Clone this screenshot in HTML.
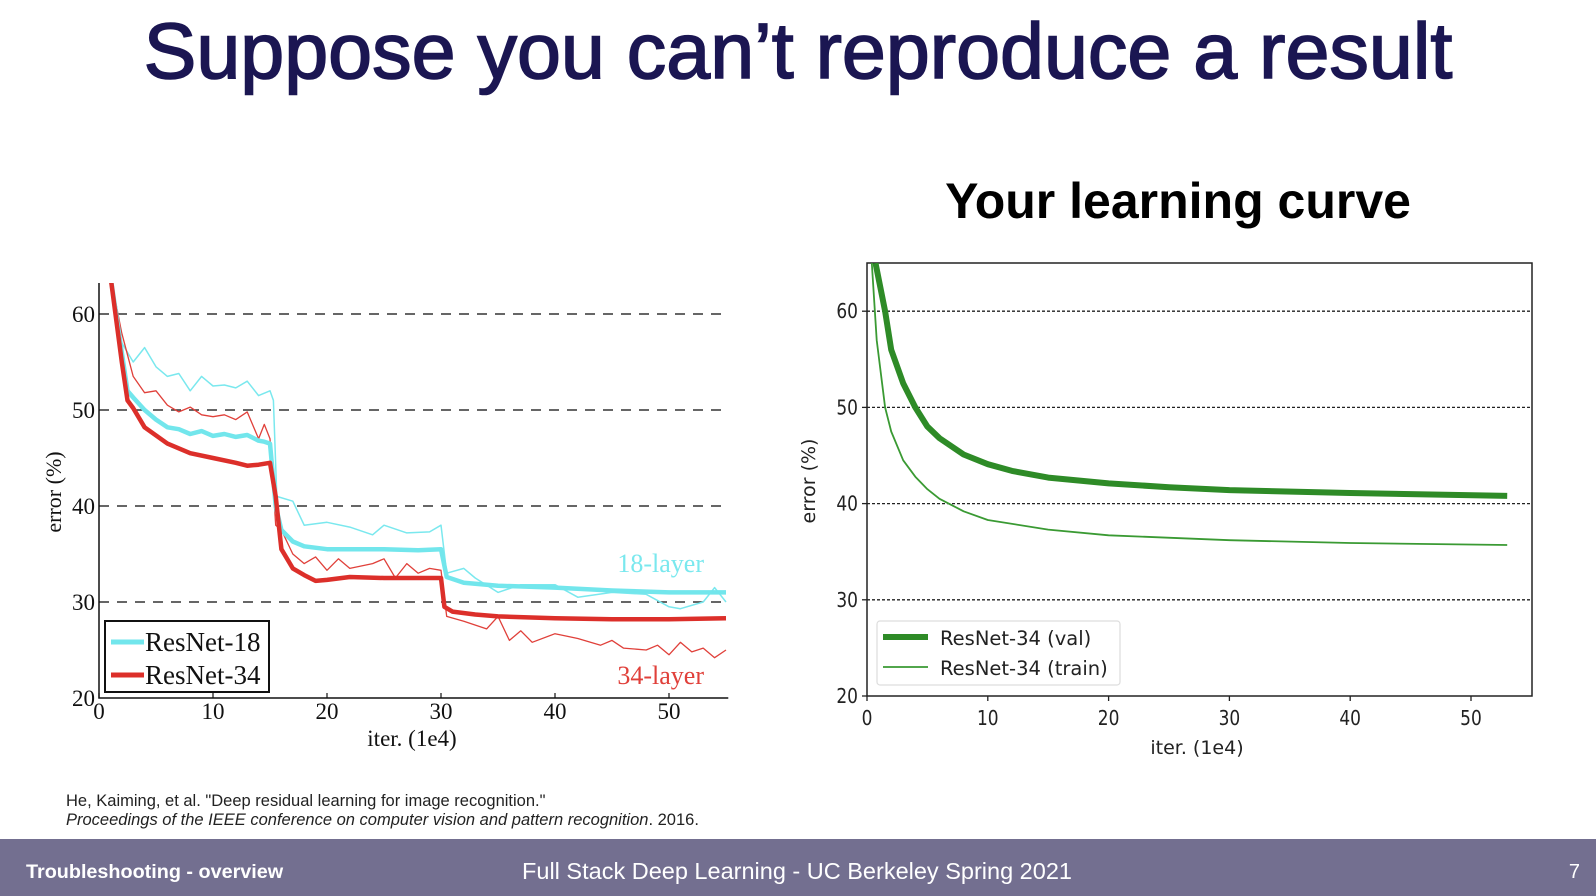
<!DOCTYPE html>
<html><head><meta charset="utf-8"><style>
html,body{margin:0;padding:0;background:#fff;}
svg{display:block;}
</style></head><body>
<svg id="slide" width="1596" height="896" viewBox="0 0 1596 896" xmlns="http://www.w3.org/2000/svg">
<defs>
<clipPath id="clipL"><rect x="99" y="283" width="632" height="415"/></clipPath>
<clipPath id="clipR"><rect x="867" y="263" width="665" height="433"/></clipPath>
</defs>
<text x="798" y="78" text-anchor="middle" font-family="Liberation Sans, sans-serif" font-size="79" fill="#1b1652" stroke="#1b1652" stroke-width="1.6">Suppose you can’t reproduce a result</text>
<text x="1178" y="218" text-anchor="middle" font-family="Liberation Sans, sans-serif" font-weight="bold" font-size="50" fill="#000">Your learning curve</text>

<g id="left"></g>
<g id="right"></g>

<text x="66" y="806" font-family="Liberation Sans, sans-serif" font-size="16.5" fill="#222">He, Kaiming, et al. "Deep residual learning for image recognition."</text>
<text x="66" y="825" font-family="Liberation Sans, sans-serif" font-size="16.5" fill="#222"><tspan font-style="italic">Proceedings of the IEEE conference on computer vision and pattern recognition</tspan>. 2016.</text>

<rect x="0" y="839" width="1596" height="57" fill="#736f90"/>
<text x="26" y="878" font-family="Liberation Sans, sans-serif" font-weight="bold" font-size="19.8" fill="#fff">Troubleshooting - overview</text>
<text x="797" y="879" text-anchor="middle" font-family="Liberation Sans, sans-serif" font-size="23.5" fill="#fff">Full Stack Deep Learning - UC Berkeley Spring 2021</text>
<text x="1580" y="878" text-anchor="end" font-family="Liberation Sans, sans-serif" font-size="20" fill="#fff">7</text>
</svg>
<script>
// ---- Left chart data (He et al.) ----
const lXTicks = [0,10,20,30,40,50];
const lYTicks = [20,30,40,50,60];
const r18ValX = [1,2,2.5,3,4,5,6,7,8,9,10,11,12,13,14,14.5,15,15.5,16,17,18,20,22,25,28,30,30.5,32,35,40,45,50,55];
const r18ValY = [64,56,52,51.3,50,49,48.2,48,47.5,47.8,47.3,47.5,47.2,47.4,46.8,46.7,46.5,40,37.5,36.3,35.8,35.5,35.5,35.5,35.4,35.5,32.6,32,31.7,31.5,31.2,31,31];
const r18TrX = [1,2,3,4,5,6,7,8,9,10,11,12,13,14,15,15.3,15.6,17,18,20,22,24,25,27,29,30,30.5,32,33,35,37,40,42,45,48,50,51,53,54,55];
const r18TrY = [64,57,55,56.5,54.5,53.5,53.8,52,53.5,52.5,52.6,52.3,53,51.5,52,51,41,40.5,38,38.3,37.8,37,38,37.2,37.3,38,33,33.5,32.5,31,31.8,31.8,30.5,31,30.8,29.5,29.3,30,31.5,30];
const r34ValX = [1,2,2.5,3,4,6,8,10,12,13,14,15,15.5,16,17,18,19,20,22,25,30,30.3,31,33,35,40,45,50,55];
const r34ValY = [64,55,51,50.2,48.2,46.5,45.5,45,44.5,44.2,44.3,44.5,41,35.5,33.5,32.8,32.2,32.3,32.6,32.5,32.5,29.5,29,28.7,28.5,28.3,28.2,28.2,28.3];
const r34TrX = [1,2,3,4,5,6,7,8,9,10,11,12,13,14,14.5,15,15.5,16,17,18,19,20,21,22,24,25,26,27,28,29,30,30.5,32,34,35,36,37,38,40,42,44,45,46,48,49,50,51,52,53,54,55];
const r34TrY = [64,58,53.5,51.8,52,50.5,49.8,50.3,49.5,49.3,49.5,49,49.8,47,48.5,47,38,37.5,35,34,34.7,33.3,34.5,33.5,34,34.5,32.5,34,33,33.5,33.3,28.5,28,27.2,28.5,26,27,25.8,26.7,26.2,25.5,26,25.2,25,25.5,24.5,25.8,24.8,25.2,24.2,25];
// ---- Right chart data ----
const rXTicks = [0,10,20,30,40,50];
const rYTicks = [20,30,40,50,60];
const valX = [0.7,1.5,2,3,4,5,6,8,10,12,15,20,25,30,40,53];
const valY = [65,60,56,52.5,50,48,46.8,45.1,44.1,43.4,42.7,42.1,41.7,41.4,41.1,40.8];
const trainX = [0.4,0.8,1,1.5,2,3,4,5,6,8,10,15,20,30,40,53];
const trainY = [65,57,55,50,47.5,44.5,42.8,41.5,40.5,39.2,38.3,37.3,36.7,36.2,35.9,35.7];

const NS = 'http://www.w3.org/2000/svg';
function mk(parent, tag, attrs, text){
  const e = document.createElementNS(NS, tag);
  for (const k in attrs) e.setAttribute(k, attrs[k]);
  if (text !== undefined) e.textContent = text;
  parent.appendChild(e);
  return e;
}
const lx = v => 99 + v*11.4;
const ly = v => 698 - (v-20)*9.6;
const rx = v => 867 + v*12.08;
const ry = v => 696 - (v-20)*9.62;

function pathD(xs, ys, fx, fy){
  return xs.map((x,i)=>(i?'L':'M')+fx(x).toFixed(1)+' '+fy(ys[i]).toFixed(1)).join(' ');
}

// ===== Left chart =====
const L = document.getElementById('left');
const serif = 'Liberation Serif, serif';
lYTicks.forEach(t=>{
  if (t>20){
    const g = mk(L,'line',{x1:lx(0),x2:lx(55.2),y1:ly(t),y2:ly(t),stroke:'#333','stroke-width':1.5,'stroke-dasharray':'10 8'});
    
    
  }
  const tl = mk(L,'text',{x:lx(0)-4,y:ly(t)+8,'text-anchor':'end','font-family':serif,'font-size':23,fill:'#111'},String(t));
  
  
});
lXTicks.forEach(t=>{
  mk(L,'line',{x1:lx(t),x2:lx(t),y1:ly(20),y2:ly(20)-5,stroke:'#111','stroke-width':1.2});
  const tl = mk(L,'text',{x:lx(t),y:ly(20)+21,'text-anchor':'middle','font-family':serif,'font-size':23,fill:'#111'},String(t));
  
  
});
const lax = mk(L,'path',{d:`M${lx(0)} 283 V${ly(20)} H${lx(55.2)}`,fill:'none',stroke:'#111','stroke-width':1.5});


const lxt = mk(L,'text',{x:412,y:746,'text-anchor':'middle','font-family':serif,'font-size':23,fill:'#111'},'iter. (1e4)');


const lyt = mk(L,'text',{transform:'translate(61,492) rotate(-90)','text-anchor':'middle','font-family':serif,'font-size':22,fill:'#111'},'error (%)');


const lc = mk(L,'g',{'clip-path':'url(#clipL)'});
[[r18TrX,r18TrY,'#7ae8ee',1.5,'resnet18-train-line'],[r34TrX,r34TrY,'#e0403a',1.3,'resnet34-train-line'],
 [r18ValX,r18ValY,'#72e6ec',4.5,'resnet18-val-line'],[r34ValX,r34ValY,'#dc2f2a',4.5,'resnet34-val-line']].forEach(s=>{
  const p = mk(lc,'path',{d:pathD(s[0],s[1],lx,ly),fill:'none',stroke:s[2],'stroke-width':s[3],'stroke-linejoin':'round'});
  
  
});
const l18 = mk(L,'text',{x:704,y:572,'text-anchor':'end','font-family':serif,'font-size':26,fill:'#7ae8ee'},'18-layer');


const l34 = mk(L,'text',{x:704,y:684,'text-anchor':'end','font-family':serif,'font-size':26,fill:'#e0403a'},'34-layer');


const lleg = mk(L,'g',{});


mk(lleg,'rect',{x:105,y:621,width:164,height:71,fill:'#fff',stroke:'#111','stroke-width':2});
mk(lleg,'line',{x1:111,x2:144,y1:642,y2:642,stroke:'#72e6ec','stroke-width':5});
mk(lleg,'line',{x1:111,x2:144,y1:675,y2:675,stroke:'#dc2f2a','stroke-width':5});
mk(lleg,'text',{x:145,y:651,'font-family':serif,'font-size':27,fill:'#111'},'ResNet-18');
mk(lleg,'text',{x:145,y:684,'font-family':serif,'font-size':27,fill:'#111'},'ResNet-34');

// ===== Right chart =====
const R = document.getElementById('right');
const sans = 'DejaVu Sans, sans-serif';
rYTicks.forEach(t=>{
  if (t>20){
    const g = mk(R,'line',{x1:rx(0),x2:1532,y1:ry(t),y2:ry(t),stroke:'#222','stroke-width':1.3,'stroke-dasharray':'3 2'});
    
    
  }
  mk(R,'line',{x1:rx(0)-5,x2:rx(0),y1:ry(t),y2:ry(t),stroke:'#222','stroke-width':1.3});
  const tl = mk(R,'text',{x:rx(0)-9,y:ry(t)+7,'text-anchor':'end','font-family':sans,'font-size':20,fill:'#222',transform:`translate(${rx(0)-9},0) scale(0.85,1) translate(${-(rx(0)-9)},0)`},String(t));
  
  
});
rXTicks.forEach(t=>{
  mk(R,'line',{x1:rx(t),x2:rx(t),y1:696,y2:701,stroke:'#222','stroke-width':1.3});
  const tl = mk(R,'text',{x:rx(t),y:725,'text-anchor':'middle','font-family':sans,'font-size':20,fill:'#222',transform:`translate(${rx(t)},0) scale(0.85,1) translate(${-rx(t)},0)`},String(t));
  
  
});
const rbox = mk(R,'rect',{x:867,y:263,width:665,height:433,fill:'none',stroke:'#222','stroke-width':1.5});


const rxt = mk(R,'text',{x:1197,y:754,'text-anchor':'middle','font-family':sans,'font-size':19,fill:'#222'},'iter. (1e4)');


const ryt = mk(R,'text',{transform:'translate(815,481) rotate(-90)','text-anchor':'middle','font-family':sans,'font-size':19,fill:'#222'},'error (%)');


const rc = mk(R,'g',{'clip-path':'url(#clipR)'});
const pv = mk(rc,'path',{d:pathD(valX,valY,rx,ry),fill:'none',stroke:'#2e8b27','stroke-width':6,'stroke-linejoin':'round'});


const pt = mk(rc,'path',{d:pathD(trainX,trainY,rx,ry),fill:'none',stroke:'#3a9a33','stroke-width':1.8,'stroke-linejoin':'round'});


const rleg = mk(R,'g',{});


mk(rleg,'rect',{x:877,y:621,width:243,height:64,rx:3,fill:'#fff',stroke:'#ddd','stroke-width':1.2});
mk(rleg,'line',{x1:883,x2:928,y1:637,y2:637,stroke:'#2e8b27','stroke-width':6});
mk(rleg,'line',{x1:883,x2:928,y1:667,y2:667,stroke:'#3a9a33','stroke-width':1.8});
mk(rleg,'text',{x:940,y:645,'font-family':sans,'font-size':19.5,fill:'#222'},'ResNet-34 (val)');
mk(rleg,'text',{x:940,y:675,'font-family':sans,'font-size':19.5,fill:'#222'},'ResNet-34 (train)');
</script>
</body></html>
